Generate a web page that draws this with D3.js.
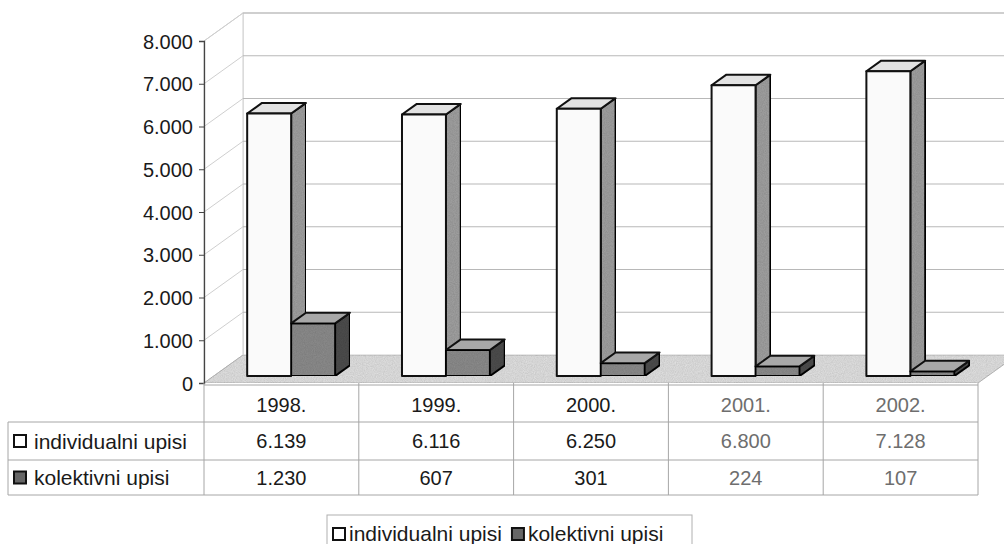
<!DOCTYPE html>
<html>
<head>
<meta charset="utf-8">
<script src="https://cdn.jsdelivr.net/npm/d3@7"></script>
<style>
  body { margin: 0; background: #fff; }
  svg { display: block; }
  text { font-family: "Liberation Sans", Arial, sans-serif; }
</style>
</head>
<body>
<div id="chart"></div>
<script>
// data
var years = ["1998.", "1999.", "2000.", "2001.", "2002."];
var individualni = [6139, 6116, 6250, 6800, 7128];
var kolektivni = [1230, 607, 301, 224, 107];
var yTicks = [0, 1000, 2000, 3000, 4000, 5000, 6000, 7000, 8000];
var seriesNames = ["individualni upisi", "kolektivni upisi"];

var width = 1004, height = 544;

var svg = d3.select("#chart").append("svg")
  .attr("width", width)
  .attr("height", height);

// grain for the scanned grey surfaces
var defs = svg.append("defs");
var f = defs.append("filter").attr("id", "grain").attr("x", 0).attr("y", 0).attr("width", 1).attr("height", 1);
f.append("feTurbulence").attr("type", "fractalNoise").attr("baseFrequency", 0.9).attr("numOctaves", 2).attr("result", "n");
f.append("feColorMatrix").attr("in", "n").attr("type", "matrix")
  .attr("values", "0 0 0 0 0  0 0 0 0 0  0 0 0 0 0  0 0 0 0.3 0").attr("result", "a");
f.append("feComposite").attr("in", "a").attr("in2", "SourceGraphic").attr("operator", "in").attr("result", "b");
f.append("feMerge").call(function(m) {
  m.append("feMergeNode").attr("in", "SourceGraphic");
  m.append("feMergeNode").attr("in", "b");
});

var fmt = d3.formatLocale({ decimal: ",", thousands: ".", grouping: [3], currency: ["", ""] }).format(",d");

// scales (front plane)
var x = d3.scaleBand().domain(years).range([204, 978]);
var y = d3.scaleLinear().domain([0, 8000]).range([383, 41]);
var bw = x.bandwidth();
var x1 = d3.scaleBand().domain(seriesNames).range([bw * 0.216, bw * 0.784]);

// 3d depth of the plot and of the bars
var DX = 39, DY = -28;
var f0 = 0.25, fd = 0.38;

var grid = "#b8b8b8";

// back wall
svg.append("rect")
  .attr("x", 204 + DX).attr("y", y(8000) + DY)
  .attr("width", 1017 - 243).attr("height", y(0) - y(8000))
  .attr("fill", "#fff").attr("stroke", "#cfcfcf");

// left wall
svg.append("path")
  .attr("d", "M" + [204, y(0)] + "L" + [204, y(8000)] + "L" + [204 + DX, y(8000) + DY] + "L" + [204 + DX, y(0) + DY] + "Z")
  .attr("fill", "#fff").attr("stroke", "#cfcfcf");

// gridlines on both walls
svg.selectAll(".gback").data(yTicks.slice(1)).enter().append("line")
  .attr("x1", 204 + DX).attr("x2", 1004)
  .attr("y1", function(d) { return y(d) + DY; })
  .attr("y2", function(d) { return y(d) + DY; })
  .attr("stroke", grid).attr("stroke-width", 1.2);

svg.selectAll(".gside").data(yTicks.slice(1)).enter().append("line")
  .attr("x1", 204).attr("x2", 204 + DX)
  .attr("y1", function(d) { return y(d); })
  .attr("y2", function(d) { return y(d) + DY; })
  .attr("stroke", "#cfcfcf").attr("stroke-width", 1);

// floor
svg.append("path")
  .attr("d", "M" + [204, y(0)] + "L" + [978, y(0)] + "L" + [978 + DX, y(0) + DY] + "L" + [204 + DX, y(0) + DY] + "Z")
  .attr("fill", "#e4e4e4").attr("stroke", "#bdbdbd")
  .attr("filter", "url(#grain)");

// y axis
svg.append("g")
  .attr("transform", "translate(204,0)")
  .call(d3.axisLeft(y).tickValues(yTicks).tickFormat(fmt).tickSize(5).tickPadding(6))
  .call(function(g) {
    g.select(".domain").attr("stroke", "#444").attr("stroke-width", 1.3);
    g.selectAll(".tick line").attr("stroke", "#444");
    g.selectAll("text").attr("font-size", 20).attr("fill", "#1a1a1a").attr("dy", "0.36em");
  });

// 3d bars
var bars = [];
years.forEach(function(yr, i) {
  bars.push({ year: yr, s: seriesNames[0], v: individualni[i] });
  bars.push({ year: yr, s: seriesNames[1], v: kolektivni[i] });
});

var colors = {
  "individualni upisi": { front: "#fafafa", side: "#a3a3a3", top: "#e2e2e2" },
  "kolektivni upisi": { front: "#8e8e8e", side: "#4f4f4f", top: "#a8a8a8" }
};

var bx = DX * f0, by = DY * f0, ddx = DX * fd, ddy = DY * fd;

var bar = svg.selectAll(".bar3d").data(bars).enter().append("g").attr("class", "bar3d");

bar.each(function(d) {
  var g = d3.select(this);
  var c = colors[d.s];
  var x0 = x(d.year) + x1(d.s) + bx, x2 = x0 + x1.bandwidth();
  var yb = y(0) + by, yt = y(d.v) + by;
  g.append("path")
    .attr("d", "M" + [x2, yb] + "L" + [x2 + ddx, yb + ddy] + "L" + [x2 + ddx, yt + ddy] + "L" + [x2, yt] + "Z")
    .attr("fill", c.side).attr("filter", "url(#grain)")
    .attr("stroke", "#111").attr("stroke-width", 2).attr("stroke-linejoin", "round");
  g.append("path")
    .attr("d", "M" + [x0, yt] + "L" + [x0 + ddx, yt + ddy] + "L" + [x2 + ddx, yt + ddy] + "L" + [x2, yt] + "Z")
    .attr("fill", c.top)
    .attr("stroke", "#111").attr("stroke-width", 2).attr("stroke-linejoin", "round");
  g.append("rect")
    .attr("x", x0).attr("y", yt).attr("width", x2 - x0).attr("height", yb - yt)
    .attr("fill", c.front).attr("filter", d.s == seriesNames[1] ? "url(#grain)" : null)
    .attr("stroke", "#111").attr("stroke-width", 2).attr("stroke-linejoin", "round");
});

// data table
var rowY = [385, 422, 460, 495];
var tline = "#a6a6a6";

svg.append("line").attr("x1", 204).attr("x2", 978).attr("y1", rowY[0]).attr("y2", rowY[0]).attr("stroke", tline);
[rowY[1], rowY[2], rowY[3]].forEach(function(yy) {
  svg.append("line").attr("x1", 8).attr("x2", 978).attr("y1", yy).attr("y2", yy).attr("stroke", tline);
});
svg.append("line").attr("x1", 8).attr("x2", 8).attr("y1", rowY[1]).attr("y2", rowY[3]).attr("stroke", tline);
var colEdges = years.map(function(d) { return x(d); }).concat([978]);
svg.selectAll(".vcol").data(colEdges).enter().append("line")
  .attr("x1", function(d) { return d; }).attr("x2", function(d) { return d; })
  .attr("y1", y(0)).attr("y2", rowY[3]).attr("stroke", tline);

// grey-ish text in later columns as in the scan
function cellColor(i) { return i >= 3 ? "#6e6e6e" : "#1a1a1a"; }

svg.selectAll(".hdr").data(years).enter().append("text")
  .attr("x", function(d) { return x(d) + bw / 2; })
  .attr("y", (rowY[0] + rowY[1]) / 2 + 1)
  .attr("dy", "0.36em").attr("text-anchor", "middle").attr("font-size", 20)
  .attr("fill", function(d, i) { return cellColor(i); })
  .text(function(d) { return d; });

[individualni, kolektivni].forEach(function(arr, r) {
  var cy = (rowY[r + 1] + rowY[r + 2]) / 2;
  svg.selectAll(".cell" + r).data(arr).enter().append("text")
    .attr("x", function(d, i) { return x(years[i]) + bw / 2; })
    .attr("y", cy)
    .attr("dy", "0.36em").attr("text-anchor", "middle").attr("font-size", 20)
    .attr("fill", function(d, i) { return cellColor(i); })
    .text(function(d) { return fmt(d); });

  // row label with legend key
  svg.append("rect")
    .attr("x", 14).attr("y", cy - 6).attr("width", 12).attr("height", 12)
    .attr("stroke", "#111").attr("stroke-width", 2)
    .attr("fill", r == 0 ? "#fff" : "#666");
  svg.append("text")
    .attr("x", 34).attr("y", cy).attr("dy", "0.36em").attr("font-size", 21).attr("fill", "#1a1a1a")
    .text(seriesNames[r]);
});

// legend
var lg = svg.append("g").attr("transform", "translate(327,515)");
lg.append("rect").attr("x", 0).attr("y", 0).attr("width", 365).attr("height", 40)
  .attr("fill", "#fff").attr("stroke", "#b0b0b0");
var lx = 6;
seriesNames.forEach(function(s, i) {
  lg.append("rect").attr("x", lx).attr("y", 13).attr("width", 12).attr("height", 12)
    .attr("stroke", "#111").attr("stroke-width", 2).attr("fill", i == 0 ? "#fff" : "#666");
  var t = lg.append("text").attr("x", lx + 16).attr("y", 18).attr("dy", "0.36em")
    .attr("font-size", 21).attr("fill", "#1a1a1a").text(s);
  lx += 16 + t.node().getComputedTextLength() + 10;
});
</script>
</body>
</html>
